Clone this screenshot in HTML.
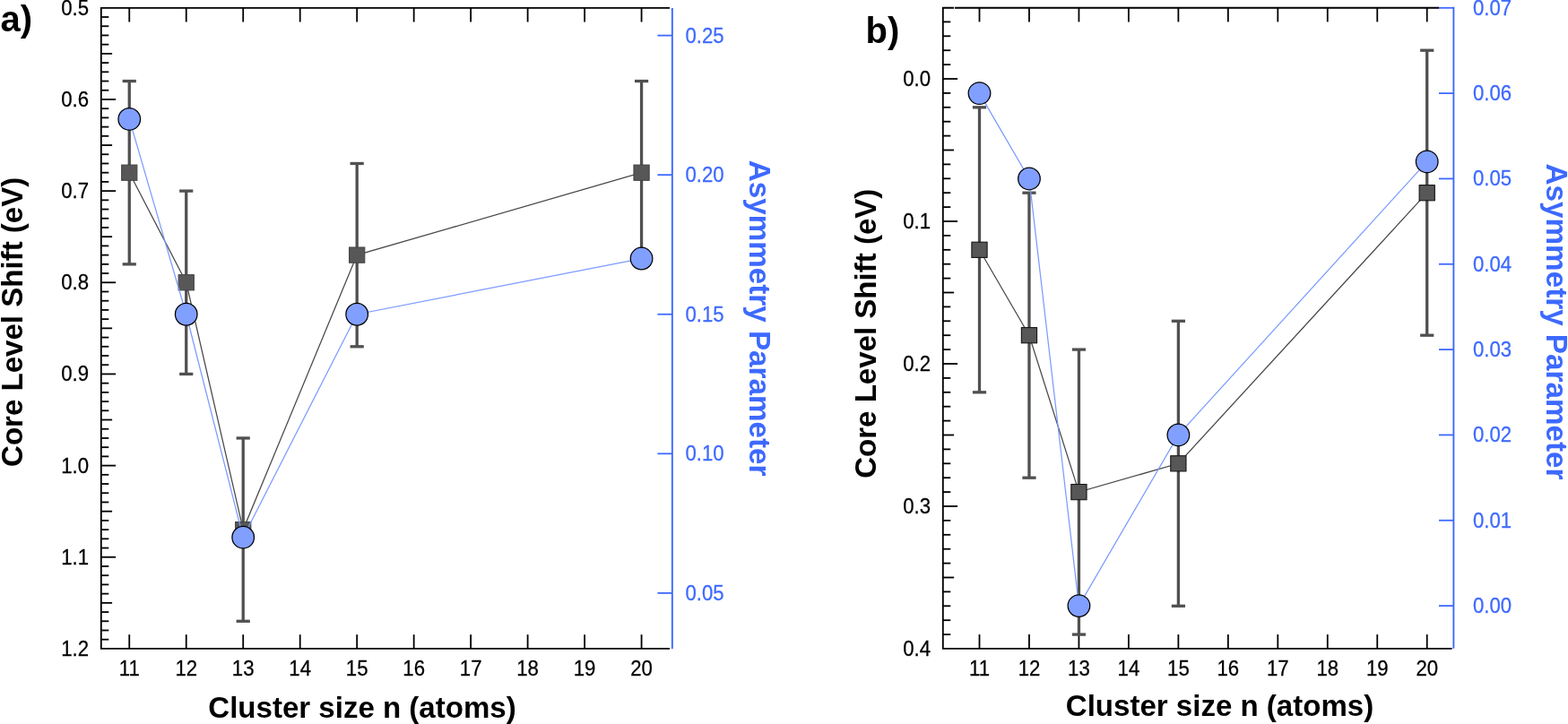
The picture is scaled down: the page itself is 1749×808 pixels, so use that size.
<!DOCTYPE html>
<html><head><meta charset="utf-8"><title>Core level shift and asymmetry parameter vs cluster size</title>
<style>
html,body{margin:0;padding:0;background:#fff;}
body{width:1749px;height:808px;overflow:hidden;}
svg{display:block;font-family:'Liberation Sans', Arial, Helvetica, sans-serif;}
</style></head>
<body>
<svg width="1749" height="808" viewBox="0 0 1749 808">
<rect width="1749" height="808" fill="#fff"/>
<line x1="112.80" y1="19.02" x2="121.30" y2="19.02" stroke="#000" stroke-width="1.8" stroke-linecap="butt"/>
<line x1="112.80" y1="29.23" x2="121.30" y2="29.23" stroke="#000" stroke-width="1.8" stroke-linecap="butt"/>
<line x1="112.80" y1="39.45" x2="121.30" y2="39.45" stroke="#000" stroke-width="1.8" stroke-linecap="butt"/>
<line x1="112.80" y1="49.66" x2="121.30" y2="49.66" stroke="#000" stroke-width="1.8" stroke-linecap="butt"/>
<line x1="112.80" y1="59.88" x2="125.10" y2="59.88" stroke="#000" stroke-width="1.8" stroke-linecap="butt"/>
<line x1="112.80" y1="70.10" x2="121.30" y2="70.10" stroke="#000" stroke-width="1.8" stroke-linecap="butt"/>
<line x1="112.80" y1="80.31" x2="121.30" y2="80.31" stroke="#000" stroke-width="1.8" stroke-linecap="butt"/>
<line x1="112.80" y1="90.53" x2="121.30" y2="90.53" stroke="#000" stroke-width="1.8" stroke-linecap="butt"/>
<line x1="112.80" y1="100.74" x2="121.30" y2="100.74" stroke="#000" stroke-width="1.8" stroke-linecap="butt"/>
<line x1="112.80" y1="110.96" x2="129.10" y2="110.96" stroke="#000" stroke-width="1.8" stroke-linecap="butt"/>
<line x1="112.80" y1="121.18" x2="121.30" y2="121.18" stroke="#000" stroke-width="1.8" stroke-linecap="butt"/>
<line x1="112.80" y1="131.39" x2="121.30" y2="131.39" stroke="#000" stroke-width="1.8" stroke-linecap="butt"/>
<line x1="112.80" y1="141.61" x2="121.30" y2="141.61" stroke="#000" stroke-width="1.8" stroke-linecap="butt"/>
<line x1="112.80" y1="151.82" x2="121.30" y2="151.82" stroke="#000" stroke-width="1.8" stroke-linecap="butt"/>
<line x1="112.80" y1="162.04" x2="125.10" y2="162.04" stroke="#000" stroke-width="1.8" stroke-linecap="butt"/>
<line x1="112.80" y1="172.26" x2="121.30" y2="172.26" stroke="#000" stroke-width="1.8" stroke-linecap="butt"/>
<line x1="112.80" y1="182.47" x2="121.30" y2="182.47" stroke="#000" stroke-width="1.8" stroke-linecap="butt"/>
<line x1="112.80" y1="192.69" x2="121.30" y2="192.69" stroke="#000" stroke-width="1.8" stroke-linecap="butt"/>
<line x1="112.80" y1="202.90" x2="121.30" y2="202.90" stroke="#000" stroke-width="1.8" stroke-linecap="butt"/>
<line x1="112.80" y1="213.12" x2="129.10" y2="213.12" stroke="#000" stroke-width="1.8" stroke-linecap="butt"/>
<line x1="112.80" y1="223.34" x2="121.30" y2="223.34" stroke="#000" stroke-width="1.8" stroke-linecap="butt"/>
<line x1="112.80" y1="233.55" x2="121.30" y2="233.55" stroke="#000" stroke-width="1.8" stroke-linecap="butt"/>
<line x1="112.80" y1="243.77" x2="121.30" y2="243.77" stroke="#000" stroke-width="1.8" stroke-linecap="butt"/>
<line x1="112.80" y1="253.98" x2="121.30" y2="253.98" stroke="#000" stroke-width="1.8" stroke-linecap="butt"/>
<line x1="112.80" y1="264.20" x2="125.10" y2="264.20" stroke="#000" stroke-width="1.8" stroke-linecap="butt"/>
<line x1="112.80" y1="274.42" x2="121.30" y2="274.42" stroke="#000" stroke-width="1.8" stroke-linecap="butt"/>
<line x1="112.80" y1="284.63" x2="121.30" y2="284.63" stroke="#000" stroke-width="1.8" stroke-linecap="butt"/>
<line x1="112.80" y1="294.85" x2="121.30" y2="294.85" stroke="#000" stroke-width="1.8" stroke-linecap="butt"/>
<line x1="112.80" y1="305.06" x2="121.30" y2="305.06" stroke="#000" stroke-width="1.8" stroke-linecap="butt"/>
<line x1="112.80" y1="315.28" x2="129.10" y2="315.28" stroke="#000" stroke-width="1.8" stroke-linecap="butt"/>
<line x1="112.80" y1="325.50" x2="121.30" y2="325.50" stroke="#000" stroke-width="1.8" stroke-linecap="butt"/>
<line x1="112.80" y1="335.71" x2="121.30" y2="335.71" stroke="#000" stroke-width="1.8" stroke-linecap="butt"/>
<line x1="112.80" y1="345.93" x2="121.30" y2="345.93" stroke="#000" stroke-width="1.8" stroke-linecap="butt"/>
<line x1="112.80" y1="356.14" x2="121.30" y2="356.14" stroke="#000" stroke-width="1.8" stroke-linecap="butt"/>
<line x1="112.80" y1="366.36" x2="125.10" y2="366.36" stroke="#000" stroke-width="1.8" stroke-linecap="butt"/>
<line x1="112.80" y1="376.58" x2="121.30" y2="376.58" stroke="#000" stroke-width="1.8" stroke-linecap="butt"/>
<line x1="112.80" y1="386.79" x2="121.30" y2="386.79" stroke="#000" stroke-width="1.8" stroke-linecap="butt"/>
<line x1="112.80" y1="397.01" x2="121.30" y2="397.01" stroke="#000" stroke-width="1.8" stroke-linecap="butt"/>
<line x1="112.80" y1="407.22" x2="121.30" y2="407.22" stroke="#000" stroke-width="1.8" stroke-linecap="butt"/>
<line x1="112.80" y1="417.44" x2="129.10" y2="417.44" stroke="#000" stroke-width="1.8" stroke-linecap="butt"/>
<line x1="112.80" y1="427.66" x2="121.30" y2="427.66" stroke="#000" stroke-width="1.8" stroke-linecap="butt"/>
<line x1="112.80" y1="437.87" x2="121.30" y2="437.87" stroke="#000" stroke-width="1.8" stroke-linecap="butt"/>
<line x1="112.80" y1="448.09" x2="121.30" y2="448.09" stroke="#000" stroke-width="1.8" stroke-linecap="butt"/>
<line x1="112.80" y1="458.30" x2="121.30" y2="458.30" stroke="#000" stroke-width="1.8" stroke-linecap="butt"/>
<line x1="112.80" y1="468.52" x2="125.10" y2="468.52" stroke="#000" stroke-width="1.8" stroke-linecap="butt"/>
<line x1="112.80" y1="478.74" x2="121.30" y2="478.74" stroke="#000" stroke-width="1.8" stroke-linecap="butt"/>
<line x1="112.80" y1="488.95" x2="121.30" y2="488.95" stroke="#000" stroke-width="1.8" stroke-linecap="butt"/>
<line x1="112.80" y1="499.17" x2="121.30" y2="499.17" stroke="#000" stroke-width="1.8" stroke-linecap="butt"/>
<line x1="112.80" y1="509.38" x2="121.30" y2="509.38" stroke="#000" stroke-width="1.8" stroke-linecap="butt"/>
<line x1="112.80" y1="519.60" x2="129.10" y2="519.60" stroke="#000" stroke-width="1.8" stroke-linecap="butt"/>
<line x1="112.80" y1="529.82" x2="121.30" y2="529.82" stroke="#000" stroke-width="1.8" stroke-linecap="butt"/>
<line x1="112.80" y1="540.03" x2="121.30" y2="540.03" stroke="#000" stroke-width="1.8" stroke-linecap="butt"/>
<line x1="112.80" y1="550.25" x2="121.30" y2="550.25" stroke="#000" stroke-width="1.8" stroke-linecap="butt"/>
<line x1="112.80" y1="560.46" x2="121.30" y2="560.46" stroke="#000" stroke-width="1.8" stroke-linecap="butt"/>
<line x1="112.80" y1="570.68" x2="125.10" y2="570.68" stroke="#000" stroke-width="1.8" stroke-linecap="butt"/>
<line x1="112.80" y1="580.90" x2="121.30" y2="580.90" stroke="#000" stroke-width="1.8" stroke-linecap="butt"/>
<line x1="112.80" y1="591.11" x2="121.30" y2="591.11" stroke="#000" stroke-width="1.8" stroke-linecap="butt"/>
<line x1="112.80" y1="601.33" x2="121.30" y2="601.33" stroke="#000" stroke-width="1.8" stroke-linecap="butt"/>
<line x1="112.80" y1="611.54" x2="121.30" y2="611.54" stroke="#000" stroke-width="1.8" stroke-linecap="butt"/>
<line x1="112.80" y1="621.76" x2="129.10" y2="621.76" stroke="#000" stroke-width="1.8" stroke-linecap="butt"/>
<line x1="112.80" y1="631.98" x2="121.30" y2="631.98" stroke="#000" stroke-width="1.8" stroke-linecap="butt"/>
<line x1="112.80" y1="642.19" x2="121.30" y2="642.19" stroke="#000" stroke-width="1.8" stroke-linecap="butt"/>
<line x1="112.80" y1="652.41" x2="121.30" y2="652.41" stroke="#000" stroke-width="1.8" stroke-linecap="butt"/>
<line x1="112.80" y1="662.62" x2="121.30" y2="662.62" stroke="#000" stroke-width="1.8" stroke-linecap="butt"/>
<line x1="112.80" y1="672.84" x2="125.10" y2="672.84" stroke="#000" stroke-width="1.8" stroke-linecap="butt"/>
<line x1="112.80" y1="683.06" x2="121.30" y2="683.06" stroke="#000" stroke-width="1.8" stroke-linecap="butt"/>
<line x1="112.80" y1="693.27" x2="121.30" y2="693.27" stroke="#000" stroke-width="1.8" stroke-linecap="butt"/>
<line x1="112.80" y1="703.49" x2="121.30" y2="703.49" stroke="#000" stroke-width="1.8" stroke-linecap="butt"/>
<line x1="112.80" y1="713.70" x2="121.30" y2="713.70" stroke="#000" stroke-width="1.8" stroke-linecap="butt"/>
<text transform="translate(99.00,16.70) scale(1,1.085)" font-size="22.2" text-anchor="end" fill="#000" stroke="#000" stroke-width="0.25">0.5</text>
<text transform="translate(99.00,118.86) scale(1,1.085)" font-size="22.2" text-anchor="end" fill="#000" stroke="#000" stroke-width="0.25">0.6</text>
<text transform="translate(99.00,221.02) scale(1,1.085)" font-size="22.2" text-anchor="end" fill="#000" stroke="#000" stroke-width="0.25">0.7</text>
<text transform="translate(99.00,323.18) scale(1,1.085)" font-size="22.2" text-anchor="end" fill="#000" stroke="#000" stroke-width="0.25">0.8</text>
<text transform="translate(99.00,425.34) scale(1,1.085)" font-size="22.2" text-anchor="end" fill="#000" stroke="#000" stroke-width="0.25">0.9</text>
<text transform="translate(99.00,527.50) scale(1,1.085)" font-size="22.2" text-anchor="end" fill="#000" stroke="#000" stroke-width="0.25">1.0</text>
<text transform="translate(99.00,629.66) scale(1,1.085)" font-size="22.2" text-anchor="end" fill="#000" stroke="#000" stroke-width="0.25">1.1</text>
<text transform="translate(99.00,731.82) scale(1,1.085)" font-size="22.2" text-anchor="end" fill="#000" stroke="#000" stroke-width="0.25">1.2</text>
<line x1="144.25" y1="723.90" x2="144.25" y2="708.20" stroke="#000" stroke-width="1.8" stroke-linecap="butt"/>
<line x1="144.25" y1="8.80" x2="144.25" y2="24.50" stroke="#000" stroke-width="1.8" stroke-linecap="butt"/>
<text transform="translate(144.25,753.80) scale(1,1.085)" font-size="22.2" text-anchor="middle" fill="#000" stroke="#000" stroke-width="0.25">11</text>
<line x1="207.73" y1="723.90" x2="207.73" y2="708.20" stroke="#000" stroke-width="1.8" stroke-linecap="butt"/>
<line x1="207.73" y1="8.80" x2="207.73" y2="24.50" stroke="#000" stroke-width="1.8" stroke-linecap="butt"/>
<text transform="translate(207.73,753.80) scale(1,1.085)" font-size="22.2" text-anchor="middle" fill="#000" stroke="#000" stroke-width="0.25">12</text>
<line x1="271.21" y1="723.90" x2="271.21" y2="708.20" stroke="#000" stroke-width="1.8" stroke-linecap="butt"/>
<line x1="271.21" y1="8.80" x2="271.21" y2="24.50" stroke="#000" stroke-width="1.8" stroke-linecap="butt"/>
<text transform="translate(271.21,753.80) scale(1,1.085)" font-size="22.2" text-anchor="middle" fill="#000" stroke="#000" stroke-width="0.25">13</text>
<line x1="334.69" y1="723.90" x2="334.69" y2="708.20" stroke="#000" stroke-width="1.8" stroke-linecap="butt"/>
<line x1="334.69" y1="8.80" x2="334.69" y2="24.50" stroke="#000" stroke-width="1.8" stroke-linecap="butt"/>
<text transform="translate(334.69,753.80) scale(1,1.085)" font-size="22.2" text-anchor="middle" fill="#000" stroke="#000" stroke-width="0.25">14</text>
<line x1="398.17" y1="723.90" x2="398.17" y2="708.20" stroke="#000" stroke-width="1.8" stroke-linecap="butt"/>
<line x1="398.17" y1="8.80" x2="398.17" y2="24.50" stroke="#000" stroke-width="1.8" stroke-linecap="butt"/>
<text transform="translate(398.17,753.80) scale(1,1.085)" font-size="22.2" text-anchor="middle" fill="#000" stroke="#000" stroke-width="0.25">15</text>
<line x1="461.65" y1="723.90" x2="461.65" y2="708.20" stroke="#000" stroke-width="1.8" stroke-linecap="butt"/>
<line x1="461.65" y1="8.80" x2="461.65" y2="24.50" stroke="#000" stroke-width="1.8" stroke-linecap="butt"/>
<text transform="translate(461.65,753.80) scale(1,1.085)" font-size="22.2" text-anchor="middle" fill="#000" stroke="#000" stroke-width="0.25">16</text>
<line x1="525.13" y1="723.90" x2="525.13" y2="708.20" stroke="#000" stroke-width="1.8" stroke-linecap="butt"/>
<line x1="525.13" y1="8.80" x2="525.13" y2="24.50" stroke="#000" stroke-width="1.8" stroke-linecap="butt"/>
<text transform="translate(525.13,753.80) scale(1,1.085)" font-size="22.2" text-anchor="middle" fill="#000" stroke="#000" stroke-width="0.25">17</text>
<line x1="588.61" y1="723.90" x2="588.61" y2="708.20" stroke="#000" stroke-width="1.8" stroke-linecap="butt"/>
<line x1="588.61" y1="8.80" x2="588.61" y2="24.50" stroke="#000" stroke-width="1.8" stroke-linecap="butt"/>
<text transform="translate(588.61,753.80) scale(1,1.085)" font-size="22.2" text-anchor="middle" fill="#000" stroke="#000" stroke-width="0.25">18</text>
<line x1="652.09" y1="723.90" x2="652.09" y2="708.20" stroke="#000" stroke-width="1.8" stroke-linecap="butt"/>
<line x1="652.09" y1="8.80" x2="652.09" y2="24.50" stroke="#000" stroke-width="1.8" stroke-linecap="butt"/>
<text transform="translate(652.09,753.80) scale(1,1.085)" font-size="22.2" text-anchor="middle" fill="#000" stroke="#000" stroke-width="0.25">19</text>
<line x1="715.57" y1="723.90" x2="715.57" y2="708.20" stroke="#000" stroke-width="1.8" stroke-linecap="butt"/>
<line x1="715.57" y1="8.80" x2="715.57" y2="24.50" stroke="#000" stroke-width="1.8" stroke-linecap="butt"/>
<text transform="translate(715.57,753.80) scale(1,1.085)" font-size="22.2" text-anchor="middle" fill="#000" stroke="#000" stroke-width="0.25">20</text>
<path d="M747.00,8.80 H112.80 V723.90 H747.00" fill="none" stroke="#000" stroke-width="1.85"/>
<line x1="749.85" y1="9.00" x2="749.85" y2="723.90" stroke="#3d69ff" stroke-width="1.9" stroke-linecap="butt"/>
<line x1="733.45" y1="661.90" x2="749.85" y2="661.90" stroke="#3d69ff" stroke-width="1.8" stroke-linecap="butt"/>
<text transform="translate(764.40,669.80) scale(1,1.085)" font-size="22.2" text-anchor="start" fill="#3d69ff" stroke="#3d69ff" stroke-width="0.25">0.05</text>
<line x1="733.45" y1="506.32" x2="749.85" y2="506.32" stroke="#3d69ff" stroke-width="1.8" stroke-linecap="butt"/>
<text transform="translate(764.40,514.23) scale(1,1.085)" font-size="22.2" text-anchor="start" fill="#3d69ff" stroke="#3d69ff" stroke-width="0.25">0.10</text>
<line x1="733.45" y1="350.75" x2="749.85" y2="350.75" stroke="#3d69ff" stroke-width="1.8" stroke-linecap="butt"/>
<text transform="translate(764.40,358.65) scale(1,1.085)" font-size="22.2" text-anchor="start" fill="#3d69ff" stroke="#3d69ff" stroke-width="0.25">0.15</text>
<line x1="733.45" y1="195.17" x2="749.85" y2="195.17" stroke="#3d69ff" stroke-width="1.8" stroke-linecap="butt"/>
<text transform="translate(764.40,203.07) scale(1,1.085)" font-size="22.2" text-anchor="start" fill="#3d69ff" stroke="#3d69ff" stroke-width="0.25">0.20</text>
<line x1="733.45" y1="39.60" x2="749.85" y2="39.60" stroke="#3d69ff" stroke-width="1.8" stroke-linecap="butt"/>
<text transform="translate(764.40,47.50) scale(1,1.085)" font-size="22.2" text-anchor="start" fill="#3d69ff" stroke="#3d69ff" stroke-width="0.25">0.25</text>
<line x1="144.25" y1="90.53" x2="144.25" y2="294.85" stroke="#505050" stroke-width="3.3" stroke-linecap="butt"/>
<line x1="136.65" y1="90.53" x2="151.85" y2="90.53" stroke="#505050" stroke-width="3.3" stroke-linecap="butt"/>
<line x1="136.65" y1="294.85" x2="151.85" y2="294.85" stroke="#505050" stroke-width="3.3" stroke-linecap="butt"/>
<line x1="207.73" y1="213.12" x2="207.73" y2="417.44" stroke="#505050" stroke-width="3.3" stroke-linecap="butt"/>
<line x1="200.13" y1="213.12" x2="215.33" y2="213.12" stroke="#505050" stroke-width="3.3" stroke-linecap="butt"/>
<line x1="200.13" y1="417.44" x2="215.33" y2="417.44" stroke="#505050" stroke-width="3.3" stroke-linecap="butt"/>
<line x1="271.21" y1="488.95" x2="271.21" y2="693.27" stroke="#505050" stroke-width="3.3" stroke-linecap="butt"/>
<line x1="263.61" y1="488.95" x2="278.81" y2="488.95" stroke="#505050" stroke-width="3.3" stroke-linecap="butt"/>
<line x1="263.61" y1="693.27" x2="278.81" y2="693.27" stroke="#505050" stroke-width="3.3" stroke-linecap="butt"/>
<line x1="398.17" y1="182.47" x2="398.17" y2="386.79" stroke="#505050" stroke-width="3.3" stroke-linecap="butt"/>
<line x1="390.57" y1="182.47" x2="405.77" y2="182.47" stroke="#505050" stroke-width="3.3" stroke-linecap="butt"/>
<line x1="390.57" y1="386.79" x2="405.77" y2="386.79" stroke="#505050" stroke-width="3.3" stroke-linecap="butt"/>
<line x1="715.57" y1="90.53" x2="715.57" y2="294.85" stroke="#505050" stroke-width="3.3" stroke-linecap="butt"/>
<line x1="707.97" y1="90.53" x2="723.17" y2="90.53" stroke="#505050" stroke-width="3.3" stroke-linecap="butt"/>
<line x1="707.97" y1="294.85" x2="723.17" y2="294.85" stroke="#505050" stroke-width="3.3" stroke-linecap="butt"/>
<polyline points="144.25,192.69 207.73,315.28 271.21,591.11 398.17,284.63 715.57,192.69" fill="none" stroke="#484848" stroke-width="1.25"/>
<rect x="135.65" y="184.09" width="17.2" height="17.2" fill="#575757" stroke="#464646" stroke-width="1.1"/>
<rect x="199.13" y="306.68" width="17.2" height="17.2" fill="#575757" stroke="#464646" stroke-width="1.1"/>
<rect x="262.61" y="582.51" width="17.2" height="17.2" fill="#575757" stroke="#464646" stroke-width="1.1"/>
<rect x="389.57" y="276.03" width="17.2" height="17.2" fill="#575757" stroke="#464646" stroke-width="1.1"/>
<rect x="706.97" y="184.09" width="17.2" height="17.2" fill="#575757" stroke="#464646" stroke-width="1.1"/>
<polyline points="144.25,132.94 207.73,350.75 271.21,599.67 398.17,350.75 715.57,288.52" fill="none" stroke="#7b9bff" stroke-width="1.25"/>
<circle cx="144.25" cy="132.94" r="12.3" fill="#819fff" stroke="#000" stroke-width="1.25"/>
<circle cx="207.73" cy="350.75" r="12.3" fill="#819fff" stroke="#000" stroke-width="1.25"/>
<circle cx="271.21" cy="599.67" r="12.3" fill="#819fff" stroke="#000" stroke-width="1.25"/>
<circle cx="398.17" cy="350.75" r="12.3" fill="#819fff" stroke="#000" stroke-width="1.25"/>
<circle cx="715.57" cy="288.52" r="12.3" fill="#819fff" stroke="#000" stroke-width="1.25"/>
<line x1="1051.80" y1="24.40" x2="1060.30" y2="24.40" stroke="#000" stroke-width="1.8" stroke-linecap="butt"/>
<line x1="1051.80" y1="40.30" x2="1060.30" y2="40.30" stroke="#000" stroke-width="1.8" stroke-linecap="butt"/>
<line x1="1051.80" y1="56.20" x2="1060.30" y2="56.20" stroke="#000" stroke-width="1.8" stroke-linecap="butt"/>
<line x1="1051.80" y1="72.10" x2="1060.30" y2="72.10" stroke="#000" stroke-width="1.8" stroke-linecap="butt"/>
<line x1="1051.80" y1="88.00" x2="1068.10" y2="88.00" stroke="#000" stroke-width="1.8" stroke-linecap="butt"/>
<line x1="1051.80" y1="103.90" x2="1060.30" y2="103.90" stroke="#000" stroke-width="1.8" stroke-linecap="butt"/>
<line x1="1051.80" y1="119.80" x2="1060.30" y2="119.80" stroke="#000" stroke-width="1.8" stroke-linecap="butt"/>
<line x1="1051.80" y1="135.70" x2="1060.30" y2="135.70" stroke="#000" stroke-width="1.8" stroke-linecap="butt"/>
<line x1="1051.80" y1="151.60" x2="1060.30" y2="151.60" stroke="#000" stroke-width="1.8" stroke-linecap="butt"/>
<line x1="1051.80" y1="167.50" x2="1064.10" y2="167.50" stroke="#000" stroke-width="1.8" stroke-linecap="butt"/>
<line x1="1051.80" y1="183.40" x2="1060.30" y2="183.40" stroke="#000" stroke-width="1.8" stroke-linecap="butt"/>
<line x1="1051.80" y1="199.30" x2="1060.30" y2="199.30" stroke="#000" stroke-width="1.8" stroke-linecap="butt"/>
<line x1="1051.80" y1="215.20" x2="1060.30" y2="215.20" stroke="#000" stroke-width="1.8" stroke-linecap="butt"/>
<line x1="1051.80" y1="231.10" x2="1060.30" y2="231.10" stroke="#000" stroke-width="1.8" stroke-linecap="butt"/>
<line x1="1051.80" y1="247.00" x2="1068.10" y2="247.00" stroke="#000" stroke-width="1.8" stroke-linecap="butt"/>
<line x1="1051.80" y1="262.90" x2="1060.30" y2="262.90" stroke="#000" stroke-width="1.8" stroke-linecap="butt"/>
<line x1="1051.80" y1="278.80" x2="1060.30" y2="278.80" stroke="#000" stroke-width="1.8" stroke-linecap="butt"/>
<line x1="1051.80" y1="294.70" x2="1060.30" y2="294.70" stroke="#000" stroke-width="1.8" stroke-linecap="butt"/>
<line x1="1051.80" y1="310.60" x2="1060.30" y2="310.60" stroke="#000" stroke-width="1.8" stroke-linecap="butt"/>
<line x1="1051.80" y1="326.50" x2="1064.10" y2="326.50" stroke="#000" stroke-width="1.8" stroke-linecap="butt"/>
<line x1="1051.80" y1="342.40" x2="1060.30" y2="342.40" stroke="#000" stroke-width="1.8" stroke-linecap="butt"/>
<line x1="1051.80" y1="358.30" x2="1060.30" y2="358.30" stroke="#000" stroke-width="1.8" stroke-linecap="butt"/>
<line x1="1051.80" y1="374.20" x2="1060.30" y2="374.20" stroke="#000" stroke-width="1.8" stroke-linecap="butt"/>
<line x1="1051.80" y1="390.10" x2="1060.30" y2="390.10" stroke="#000" stroke-width="1.8" stroke-linecap="butt"/>
<line x1="1051.80" y1="406.00" x2="1068.10" y2="406.00" stroke="#000" stroke-width="1.8" stroke-linecap="butt"/>
<line x1="1051.80" y1="421.90" x2="1060.30" y2="421.90" stroke="#000" stroke-width="1.8" stroke-linecap="butt"/>
<line x1="1051.80" y1="437.80" x2="1060.30" y2="437.80" stroke="#000" stroke-width="1.8" stroke-linecap="butt"/>
<line x1="1051.80" y1="453.70" x2="1060.30" y2="453.70" stroke="#000" stroke-width="1.8" stroke-linecap="butt"/>
<line x1="1051.80" y1="469.60" x2="1060.30" y2="469.60" stroke="#000" stroke-width="1.8" stroke-linecap="butt"/>
<line x1="1051.80" y1="485.50" x2="1064.10" y2="485.50" stroke="#000" stroke-width="1.8" stroke-linecap="butt"/>
<line x1="1051.80" y1="501.40" x2="1060.30" y2="501.40" stroke="#000" stroke-width="1.8" stroke-linecap="butt"/>
<line x1="1051.80" y1="517.30" x2="1060.30" y2="517.30" stroke="#000" stroke-width="1.8" stroke-linecap="butt"/>
<line x1="1051.80" y1="533.20" x2="1060.30" y2="533.20" stroke="#000" stroke-width="1.8" stroke-linecap="butt"/>
<line x1="1051.80" y1="549.10" x2="1060.30" y2="549.10" stroke="#000" stroke-width="1.8" stroke-linecap="butt"/>
<line x1="1051.80" y1="565.00" x2="1068.10" y2="565.00" stroke="#000" stroke-width="1.8" stroke-linecap="butt"/>
<line x1="1051.80" y1="580.90" x2="1060.30" y2="580.90" stroke="#000" stroke-width="1.8" stroke-linecap="butt"/>
<line x1="1051.80" y1="596.80" x2="1060.30" y2="596.80" stroke="#000" stroke-width="1.8" stroke-linecap="butt"/>
<line x1="1051.80" y1="612.70" x2="1060.30" y2="612.70" stroke="#000" stroke-width="1.8" stroke-linecap="butt"/>
<line x1="1051.80" y1="628.60" x2="1060.30" y2="628.60" stroke="#000" stroke-width="1.8" stroke-linecap="butt"/>
<line x1="1051.80" y1="644.50" x2="1064.10" y2="644.50" stroke="#000" stroke-width="1.8" stroke-linecap="butt"/>
<line x1="1051.80" y1="660.40" x2="1060.30" y2="660.40" stroke="#000" stroke-width="1.8" stroke-linecap="butt"/>
<line x1="1051.80" y1="676.30" x2="1060.30" y2="676.30" stroke="#000" stroke-width="1.8" stroke-linecap="butt"/>
<line x1="1051.80" y1="692.20" x2="1060.30" y2="692.20" stroke="#000" stroke-width="1.8" stroke-linecap="butt"/>
<line x1="1051.80" y1="708.10" x2="1060.30" y2="708.10" stroke="#000" stroke-width="1.8" stroke-linecap="butt"/>
<text transform="translate(1038.00,95.90) scale(1,1.085)" font-size="22.2" text-anchor="end" fill="#000" stroke="#000" stroke-width="0.25">0.0</text>
<text transform="translate(1038.00,254.90) scale(1,1.085)" font-size="22.2" text-anchor="end" fill="#000" stroke="#000" stroke-width="0.25">0.1</text>
<text transform="translate(1038.00,413.90) scale(1,1.085)" font-size="22.2" text-anchor="end" fill="#000" stroke="#000" stroke-width="0.25">0.2</text>
<text transform="translate(1038.00,572.90) scale(1,1.085)" font-size="22.2" text-anchor="end" fill="#000" stroke="#000" stroke-width="0.25">0.3</text>
<text transform="translate(1038.00,731.90) scale(1,1.085)" font-size="22.2" text-anchor="end" fill="#000" stroke="#000" stroke-width="0.25">0.4</text>
<line x1="1092.50" y1="723.80" x2="1092.50" y2="708.10" stroke="#000" stroke-width="1.8" stroke-linecap="butt"/>
<line x1="1092.50" y1="8.70" x2="1092.50" y2="24.40" stroke="#000" stroke-width="1.8" stroke-linecap="butt"/>
<text transform="translate(1092.50,753.80) scale(1,1.085)" font-size="22.2" text-anchor="middle" fill="#000" stroke="#000" stroke-width="0.25">11</text>
<line x1="1147.97" y1="723.80" x2="1147.97" y2="708.10" stroke="#000" stroke-width="1.8" stroke-linecap="butt"/>
<line x1="1147.97" y1="8.70" x2="1147.97" y2="24.40" stroke="#000" stroke-width="1.8" stroke-linecap="butt"/>
<text transform="translate(1147.97,753.80) scale(1,1.085)" font-size="22.2" text-anchor="middle" fill="#000" stroke="#000" stroke-width="0.25">12</text>
<line x1="1203.44" y1="723.80" x2="1203.44" y2="708.10" stroke="#000" stroke-width="1.8" stroke-linecap="butt"/>
<line x1="1203.44" y1="8.70" x2="1203.44" y2="24.40" stroke="#000" stroke-width="1.8" stroke-linecap="butt"/>
<text transform="translate(1203.44,753.80) scale(1,1.085)" font-size="22.2" text-anchor="middle" fill="#000" stroke="#000" stroke-width="0.25">13</text>
<line x1="1258.91" y1="723.80" x2="1258.91" y2="708.10" stroke="#000" stroke-width="1.8" stroke-linecap="butt"/>
<line x1="1258.91" y1="8.70" x2="1258.91" y2="24.40" stroke="#000" stroke-width="1.8" stroke-linecap="butt"/>
<text transform="translate(1258.91,753.80) scale(1,1.085)" font-size="22.2" text-anchor="middle" fill="#000" stroke="#000" stroke-width="0.25">14</text>
<line x1="1314.38" y1="723.80" x2="1314.38" y2="708.10" stroke="#000" stroke-width="1.8" stroke-linecap="butt"/>
<line x1="1314.38" y1="8.70" x2="1314.38" y2="24.40" stroke="#000" stroke-width="1.8" stroke-linecap="butt"/>
<text transform="translate(1314.38,753.80) scale(1,1.085)" font-size="22.2" text-anchor="middle" fill="#000" stroke="#000" stroke-width="0.25">15</text>
<line x1="1369.85" y1="723.80" x2="1369.85" y2="708.10" stroke="#000" stroke-width="1.8" stroke-linecap="butt"/>
<line x1="1369.85" y1="8.70" x2="1369.85" y2="24.40" stroke="#000" stroke-width="1.8" stroke-linecap="butt"/>
<text transform="translate(1369.85,753.80) scale(1,1.085)" font-size="22.2" text-anchor="middle" fill="#000" stroke="#000" stroke-width="0.25">16</text>
<line x1="1425.32" y1="723.80" x2="1425.32" y2="708.10" stroke="#000" stroke-width="1.8" stroke-linecap="butt"/>
<line x1="1425.32" y1="8.70" x2="1425.32" y2="24.40" stroke="#000" stroke-width="1.8" stroke-linecap="butt"/>
<text transform="translate(1425.32,753.80) scale(1,1.085)" font-size="22.2" text-anchor="middle" fill="#000" stroke="#000" stroke-width="0.25">17</text>
<line x1="1480.79" y1="723.80" x2="1480.79" y2="708.10" stroke="#000" stroke-width="1.8" stroke-linecap="butt"/>
<line x1="1480.79" y1="8.70" x2="1480.79" y2="24.40" stroke="#000" stroke-width="1.8" stroke-linecap="butt"/>
<text transform="translate(1480.79,753.80) scale(1,1.085)" font-size="22.2" text-anchor="middle" fill="#000" stroke="#000" stroke-width="0.25">18</text>
<line x1="1536.26" y1="723.80" x2="1536.26" y2="708.10" stroke="#000" stroke-width="1.8" stroke-linecap="butt"/>
<line x1="1536.26" y1="8.70" x2="1536.26" y2="24.40" stroke="#000" stroke-width="1.8" stroke-linecap="butt"/>
<text transform="translate(1536.26,753.80) scale(1,1.085)" font-size="22.2" text-anchor="middle" fill="#000" stroke="#000" stroke-width="0.25">19</text>
<line x1="1591.73" y1="723.80" x2="1591.73" y2="708.10" stroke="#000" stroke-width="1.8" stroke-linecap="butt"/>
<line x1="1591.73" y1="8.70" x2="1591.73" y2="24.40" stroke="#000" stroke-width="1.8" stroke-linecap="butt"/>
<text transform="translate(1591.73,753.80) scale(1,1.085)" font-size="22.2" text-anchor="middle" fill="#000" stroke="#000" stroke-width="0.25">20</text>
<path d="M1605.20,8.70 H1051.80 V723.80 H1619.60" fill="none" stroke="#000" stroke-width="1.85"/>
<rect x="1064.10" y="6.70" width="0.9" height="4" fill="#fff"/>
<line x1="1621.40" y1="7.85" x2="1621.40" y2="723.80" stroke="#3d69ff" stroke-width="1.9" stroke-linecap="butt"/>
<line x1="1605.00" y1="676.10" x2="1621.40" y2="676.10" stroke="#3d69ff" stroke-width="1.8" stroke-linecap="butt"/>
<text transform="translate(1643.00,684.00) scale(1,1.085)" font-size="22.2" text-anchor="start" fill="#3d69ff" stroke="#3d69ff" stroke-width="0.25">0.00</text>
<line x1="1605.00" y1="580.77" x2="1621.40" y2="580.77" stroke="#3d69ff" stroke-width="1.8" stroke-linecap="butt"/>
<text transform="translate(1643.00,588.67) scale(1,1.085)" font-size="22.2" text-anchor="start" fill="#3d69ff" stroke="#3d69ff" stroke-width="0.25">0.01</text>
<line x1="1605.00" y1="485.44" x2="1621.40" y2="485.44" stroke="#3d69ff" stroke-width="1.8" stroke-linecap="butt"/>
<text transform="translate(1643.00,493.34) scale(1,1.085)" font-size="22.2" text-anchor="start" fill="#3d69ff" stroke="#3d69ff" stroke-width="0.25">0.02</text>
<line x1="1605.00" y1="390.11" x2="1621.40" y2="390.11" stroke="#3d69ff" stroke-width="1.8" stroke-linecap="butt"/>
<text transform="translate(1643.00,398.01) scale(1,1.085)" font-size="22.2" text-anchor="start" fill="#3d69ff" stroke="#3d69ff" stroke-width="0.25">0.03</text>
<line x1="1605.00" y1="294.78" x2="1621.40" y2="294.78" stroke="#3d69ff" stroke-width="1.8" stroke-linecap="butt"/>
<text transform="translate(1643.00,302.68) scale(1,1.085)" font-size="22.2" text-anchor="start" fill="#3d69ff" stroke="#3d69ff" stroke-width="0.25">0.04</text>
<line x1="1605.00" y1="199.45" x2="1621.40" y2="199.45" stroke="#3d69ff" stroke-width="1.8" stroke-linecap="butt"/>
<text transform="translate(1643.00,207.35) scale(1,1.085)" font-size="22.2" text-anchor="start" fill="#3d69ff" stroke="#3d69ff" stroke-width="0.25">0.05</text>
<line x1="1605.00" y1="104.12" x2="1621.40" y2="104.12" stroke="#3d69ff" stroke-width="1.8" stroke-linecap="butt"/>
<text transform="translate(1643.00,112.02) scale(1,1.085)" font-size="22.2" text-anchor="start" fill="#3d69ff" stroke="#3d69ff" stroke-width="0.25">0.06</text>
<line x1="1605.00" y1="8.79" x2="1621.40" y2="8.79" stroke="#3d69ff" stroke-width="1.8" stroke-linecap="butt"/>
<text transform="translate(1643.00,16.69) scale(1,1.085)" font-size="22.2" text-anchor="start" fill="#3d69ff" stroke="#3d69ff" stroke-width="0.25">0.07</text>
<line x1="1092.50" y1="119.80" x2="1092.50" y2="437.80" stroke="#505050" stroke-width="3.3" stroke-linecap="butt"/>
<line x1="1084.90" y1="119.80" x2="1100.10" y2="119.80" stroke="#505050" stroke-width="3.3" stroke-linecap="butt"/>
<line x1="1084.90" y1="437.80" x2="1100.10" y2="437.80" stroke="#505050" stroke-width="3.3" stroke-linecap="butt"/>
<line x1="1147.97" y1="215.20" x2="1147.97" y2="533.20" stroke="#505050" stroke-width="3.3" stroke-linecap="butt"/>
<line x1="1140.37" y1="215.20" x2="1155.57" y2="215.20" stroke="#505050" stroke-width="3.3" stroke-linecap="butt"/>
<line x1="1140.37" y1="533.20" x2="1155.57" y2="533.20" stroke="#505050" stroke-width="3.3" stroke-linecap="butt"/>
<line x1="1203.44" y1="390.10" x2="1203.44" y2="708.10" stroke="#505050" stroke-width="3.3" stroke-linecap="butt"/>
<line x1="1195.84" y1="390.10" x2="1211.04" y2="390.10" stroke="#505050" stroke-width="3.3" stroke-linecap="butt"/>
<line x1="1195.84" y1="708.10" x2="1211.04" y2="708.10" stroke="#505050" stroke-width="3.3" stroke-linecap="butt"/>
<line x1="1314.38" y1="358.30" x2="1314.38" y2="676.30" stroke="#505050" stroke-width="3.3" stroke-linecap="butt"/>
<line x1="1306.78" y1="358.30" x2="1321.98" y2="358.30" stroke="#505050" stroke-width="3.3" stroke-linecap="butt"/>
<line x1="1306.78" y1="676.30" x2="1321.98" y2="676.30" stroke="#505050" stroke-width="3.3" stroke-linecap="butt"/>
<line x1="1591.73" y1="56.20" x2="1591.73" y2="374.20" stroke="#505050" stroke-width="3.3" stroke-linecap="butt"/>
<line x1="1584.13" y1="56.20" x2="1599.33" y2="56.20" stroke="#505050" stroke-width="3.3" stroke-linecap="butt"/>
<line x1="1584.13" y1="374.20" x2="1599.33" y2="374.20" stroke="#505050" stroke-width="3.3" stroke-linecap="butt"/>
<polyline points="1092.50,278.80 1147.97,374.20 1203.44,549.10 1314.38,517.30 1591.73,215.20" fill="none" stroke="#484848" stroke-width="1.25"/>
<rect x="1083.90" y="270.20" width="17.2" height="17.2" fill="#575757" stroke="#141414" stroke-width="1.1"/>
<rect x="1139.37" y="365.60" width="17.2" height="17.2" fill="#575757" stroke="#141414" stroke-width="1.1"/>
<rect x="1194.84" y="540.50" width="17.2" height="17.2" fill="#575757" stroke="#141414" stroke-width="1.1"/>
<rect x="1305.78" y="508.70" width="17.2" height="17.2" fill="#575757" stroke="#141414" stroke-width="1.1"/>
<rect x="1583.13" y="206.60" width="17.2" height="17.2" fill="#575757" stroke="#141414" stroke-width="1.1"/>
<polyline points="1092.50,104.12 1147.97,199.45 1203.44,676.10 1314.38,485.44 1591.73,180.38" fill="none" stroke="#7b9bff" stroke-width="1.25"/>
<circle cx="1092.50" cy="104.12" r="12.3" fill="#819fff" stroke="#000" stroke-width="1.25"/>
<circle cx="1147.97" cy="199.45" r="12.3" fill="#819fff" stroke="#000" stroke-width="1.25"/>
<circle cx="1203.44" cy="676.10" r="12.3" fill="#819fff" stroke="#000" stroke-width="1.25"/>
<circle cx="1314.38" cy="485.44" r="12.3" fill="#819fff" stroke="#000" stroke-width="1.25"/>
<circle cx="1591.73" cy="180.38" r="12.3" fill="#819fff" stroke="#000" stroke-width="1.25"/>
<text x="0.50" y="34.50" font-size="40" text-anchor="start" fill="#000" font-weight="bold">a)</text>
<text x="965.50" y="47.50" font-size="40" text-anchor="start" fill="#000" font-weight="bold">b)</text>
<text x="404.00" y="800.80" font-size="33.05" text-anchor="middle" fill="#000" font-weight="bold">Cluster size n (atoms)</text>
<text x="1360.50" y="799.10" font-size="33.05" text-anchor="middle" fill="#000" font-weight="bold">Cluster size n (atoms)</text>
<text transform="translate(25.0,359.35) rotate(-90)" font-size="33.05" text-anchor="middle" font-weight="bold" fill="#000">Core Level Shift (eV)</text>
<text transform="translate(977.0,372.25) rotate(-90)" font-size="33.05" text-anchor="middle" font-weight="bold" fill="#000">Core Level Shift (eV)</text>
<text transform="translate(835.9,355.1) rotate(90)" font-size="33.24" text-anchor="middle" font-weight="bold" fill="#3d69ff">Asymmetry Parameter</text>
<text transform="translate(1724.8,359.0) rotate(90)" font-size="33.24" text-anchor="middle" font-weight="bold" fill="#3d69ff">Asymmetry Parameter</text>
</svg>
</body></html>
